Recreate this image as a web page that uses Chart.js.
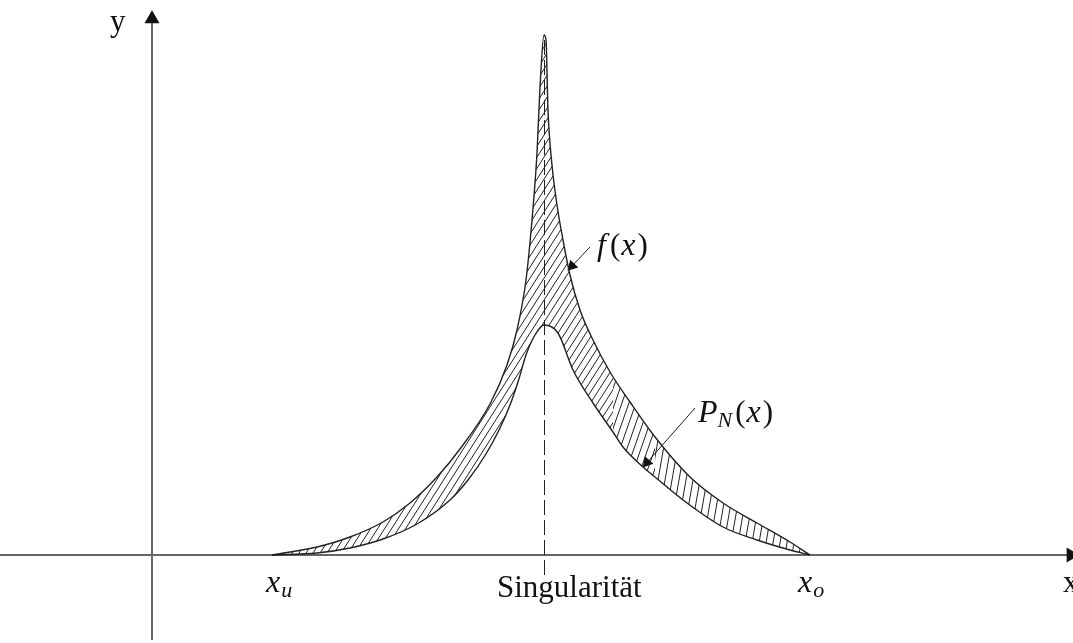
<!DOCTYPE html>
<html>
<head>
<meta charset="utf-8">
<script src="https://cdn.jsdelivr.net/npm/chart.js@4"></script>
<style>
  html, body { margin: 0; padding: 0; background: #fff; }
  #wrap { width: 1073px; height: 643px; position: relative; }
</style>
</head>
<body>
<div id="wrap"><canvas id="plot"></canvas></div>
<script>
// units: x and y measured from the axes cross, 1 unit = 100 px of the picture
// f(x) - the function with the singularity (outer curve)
const fX = [1.20, 1.65, 1.98, 2.31, 2.58, 2.85, 3.08, 3.38, 3.55, 3.65, 3.74, 3.80, 3.85, 3.88, 3.92,
            3.94, 3.96, 4.00, 4.05, 4.11, 4.18, 4.28, 4.41, 4.58, 4.78, 5.03, 5.38, 5.71, 6.05, 6.38, 6.58];
const fY = [0.00, 0.08, 0.18, 0.33, 0.52, 0.78, 1.06, 1.51, 1.90, 2.25, 2.75, 3.35, 4.02, 4.68, 5.20,
            5.15, 4.45, 3.90, 3.50, 3.15, 2.80, 2.45, 2.15, 1.83, 1.53, 1.18, 0.78, 0.52, 0.32, 0.13, 0.00];
// P_N(x) - the approximating polynomial (inner curve), split where the hatching turns
const pXa = [1.20, 1.65, 1.98, 2.31, 2.65, 2.98, 3.16, 3.34, 3.48, 3.58, 3.66, 3.74, 3.83, 3.92,
             4.06, 4.21, 4.41, 4.61];
const pYa = [0.00, 0.02, 0.07, 0.16, 0.31, 0.55, 0.75, 1.01, 1.27, 1.50, 1.73, 2.00, 2.20, 2.30,
             2.22, 1.85, 1.52, 1.23];
const pXb = [4.61, 4.71, 4.91, 5.03];
const pYb = [1.23, 1.08, 0.88, 0.78];
const pXc = [5.03, 5.31, 5.71, 6.05, 6.38, 6.58];
const pYc = [0.78, 0.55, 0.28, 0.15, 0.05, 0.00];

const singX = 3.925;           // position of the singularity
const singSpan = [-0.20, 5.18];

// axes (arrow tips at the last point)
const xAxisX = [-1.52, 9.19];
const yAxisY = [-0.85, 5.36];

// pointer arrows: [start, head]
const fArrow = [[4.38, 3.08], [4.20, 2.89]];
const pArrow = [[5.43, 1.47], [4.95, 0.925]];

const it32 = 'italic 32px "Liberation Serif"';
const it22 = 'italic 22px "Liberation Serif"';
const rm31 = '31px "Liberation Serif"';

const labels = [
  { x: -0.42, y: 5.24, parts: [{ t: 'y', font: rm31 }] },
  { x: 9.11, y: -0.37, parts: [{ t: 'x', font: rm31 }] },
  { x: 1.14, y: -0.37, parts: [{ t: 'x', font: it32, gap: 1 }, { t: 'u', font: it22, dy: 5 }] },
  { x: 6.46, y: -0.37, parts: [{ t: 'x', font: it32, gap: 1 }, { t: 'o', font: it22, dy: 5 }] },
  { x: 3.45, y: -0.42, parts: [{ t: 'Singularität', font: rm31 }] },
  { x: 4.45, y: 3.00, parts: [{ t: 'f', font: it32, gap: 4 }, { t: '(', font: rm31, gap: 1 },
                              { t: 'x', font: it32, gap: 2 }, { t: ')', font: rm31 }] },
  { x: 5.46, y: 1.33, parts: [{ t: 'P', font: it32, gap: 0 }, { t: 'N', font: it22, dy: 5, gap: 3 },
                              { t: '(', font: rm31, gap: 1 }, { t: 'x', font: it32, gap: 2 },
                              { t: ')', font: rm31 }] }
];

const pts = (xs, ys) => xs.map((v, i) => ({ x: v, y: ys[i] }));

// hatch patterns: w = spacing, h = rise of one line
function makeHatch(w, h) {
  const c = document.createElement('canvas');
  c.width = w; c.height = h;
  const g = c.getContext('2d');
  g.strokeStyle = '#222';
  g.lineWidth = 1;
  g.beginPath();
  g.moveTo(-w, h); g.lineTo(0, 0);
  g.moveTo(0, h); g.lineTo(w, 0);
  g.moveTo(w, h); g.lineTo(2 * w, 0);
  g.stroke();
  return g.createPattern(c, 'repeat');
}

const curve = (xs, ys, hatch) => ({
  data: pts(xs, ys),
  borderColor: '#222', borderWidth: 1.4,
  pointRadius: 0, cubicInterpolationMode: 'monotone',
  fill: hatch ? 0 : false, backgroundColor: hatch || 'transparent'
});

const textPlugin = {
  id: 'texts',
  afterDraw(chart) {
    const { ctx, scales: { x, y } } = chart;
    ctx.save();
    ctx.fillStyle = '#111';
    ctx.textBaseline = 'alphabetic';
    labels.forEach(l => {
      let px = x.getPixelForValue(l.x);
      const py = y.getPixelForValue(l.y);
      l.parts.forEach(p => {
        ctx.font = p.font;
        ctx.fillText(p.t, px, py + (p.dy || 0));
        px += ctx.measureText(p.t).width + (p.gap || 0);
      });
    });
    ctx.restore();
  }
};

const arrowSet = (a, rot, r) => ({
  data: pts([a[0][0], a[1][0]], [a[0][1], a[1][1]]),
  borderColor: '#222', borderWidth: 1,
  pointRadius: [0, r], pointStyle: 'triangle', pointRotation: [0, rot],
  pointBackgroundColor: '#111', pointBorderColor: '#111', pointBorderWidth: 0,
  clip: false
});

new Chart(document.getElementById('plot'), {
  type: 'line',
  data: {
    datasets: [
      curve(fX, fY, null),
      curve(pXa, pYa, makeHatch(7, 11)),
      curve(pXb, pYb, makeHatch(7, 20)),
      curve(pXc, pYc, makeHatch(7, 40)),
      {
        data: pts([singX, singX], singSpan),
        borderColor: '#222', borderWidth: 1, borderDash: [15, 5], pointRadius: 0
      },
      {
        data: pts(xAxisX, [0, 0]),
        borderColor: '#666', borderWidth: 1.8,
        pointRadius: [0, 8.7], pointStyle: 'triangle', pointRotation: [0, 90],
        pointBackgroundColor: '#111', pointBorderWidth: 0, clip: false
      },
      {
        data: pts([0, 0], yAxisY),
        borderColor: '#444', borderWidth: 1.6,
        pointRadius: [0, 8.7], pointStyle: 'triangle', pointRotation: [0, 0],
        pointBackgroundColor: '#111', pointBorderWidth: 0, clip: false
      },
      arrowSet(fArrow, 224, 6.5),
      arrowSet(pArrow, 221, 6.5)
    ]
  },
  options: {
    responsive: true,
    maintainAspectRatio: false,
    animation: false,
    events: [],
    layout: { padding: 0, autoPadding: false },
    plugins: { legend: { display: false }, tooltip: { enabled: false } },
    scales: {
      x: { type: 'linear', min: -1.52, max: 9.21, display: false },
      y: { type: 'linear', min: -0.88, max: 5.55, display: false }
    }
  },
  plugins: [textPlugin]
});
</script>
</body>
</html>
